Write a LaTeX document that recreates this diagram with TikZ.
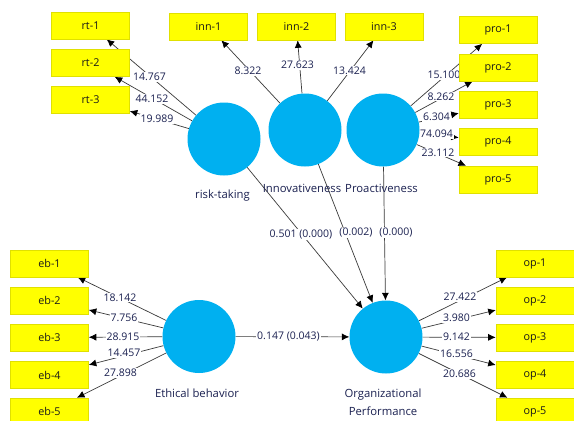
\documentclass[tikz,border=0pt]{standalone}
\usepackage{fontspec}
\setmainfont{Open Sans}
\usetikzlibrary{arrows.meta, positioning, backgrounds}
\definecolor{LVBlue}{HTML}{00B0F0}
\definecolor{IndYellow}{HTML}{FFFF00}
\definecolor{IndEdge}{HTML}{E0E000}
\definecolor{LblNavy}{HTML}{1A2050}
\definecolor{LinkGray}{HTML}{3A3A3A}

\tikzset{
  latent/.style={circle, fill=LVBlue, draw=none, minimum size=73pt, inner sep=0pt},
  indic/.style={rectangle, fill=IndYellow, draw=IndEdge, line width=0.6pt,
    minimum width=78pt, minimum height=27pt, inner sep=0pt,
    font=\fontsize{10.8}{12}\selectfont, text=black!90},
  lvname/.style={font=\fontsize{11.3}{18}\selectfont, text=LblNavy, inner sep=0pt},
  coef/.style={fill=white, inner sep=0.8pt, font=\fontsize{10.5}{12}\selectfont, text=LblNavy},
  link/.style={draw=LinkGray, line width=0.7pt,
    -{Latex[length=7.5pt, width=7pt, color=black]}}
}

\begin{document}
\begin{tikzpicture}[x=1pt, y=-1pt]
\useasboundingbox (0,0) rectangle (574,421);

% ── Latent variables ──────────────────────────────────────────────────────────
\node[latent] (rt)  at (224,139)   {};
\node[latent] (inn) at (305,130)   {};
\node[latent] (pro) at (383,130)   {};
\node[latent] (eb)  at (199,336.5) {};
\node[latent] (op)  at (386,337)   {};

\node[lvname] (rtname)  at (222.5,196) {risk-taking};
\node[lvname] (innname) at (302,188)   {Innovativeness};
\node[lvname] (proname) at (381.5,188) {Proactiveness};
\node[lvname] (ebname)  at (197,393)   {Ethical behavior};
\node[lvname, align=center] (opname) at (383,402) {Organizational\\Performance};

% ── Indicators ────────────────────────────────────────────────────────────────
\foreach \n/\y in {1/25.5, 2/63, 3/99.5}
  \node[indic] (rt\n) at (90.5,\y) {rt-\n};
\foreach \n/\x in {1/208.5, 2/296.5, 3/384}
  \node[indic] (inn\n) at (\x,26.5) {inn-\n};
\foreach \n/\y in {1/30, 2/67.5, 3/104.5, 4/141.5, 5/179.5}
  \node[indic] (pro\n) at (498,\y) {pro-\n};
\foreach \n/\y in {1/263.5, 2/300.5, 3/337.5, 4/375, 5/411.5}{
  \node[indic] (eb\n) at (49.5,\y) {eb-\n};
  \node[indic] (op\n) at (535,\y) {op-\n};
}

% ── Loadings and paths ────────────────────────────────────────────────────────
\begin{scope}[on background layer]
  \fill[white] (0,0) rectangle (574,421);
  \foreach \n in {1,2,3}{
    \draw[link] (rt) -- (rt\n);
    \draw[link] (inn) -- (inn\n);
  }
  \foreach \n in {1,...,5}{
    \draw[link] (pro) -- (pro\n);
    \draw[link] (eb) -- (eb\n);
    \draw[link] (op) -- (op\n);
  }
  \draw[link] (rt) -- (op);
  \draw[link] (inn) -- (op);
  \draw[link] (pro) -- (op);
  \draw[link] (eb) -- (op);

  % loading values
  \foreach \n/\x/\y/\v in {1/149.5/77/14.767, 2/152/99/44.152, 3/157/119/19.989}
    \node[coef] (lrt\n) at (\x,\y) {\v};
  \foreach \n/\x/\y/\v in {1/248/71/8.322, 2/297.5/65/27.623, 3/349.5/70.5/13.424}
    \node[coef] (linn\n) at (\x,\y) {\v};
  \foreach \n/\x/\y/\v in {1/444/75/15.100, 2/441/96.5/8.262, 3/436.5/117/6.304,
                           4/436.5/134/74.094, 5/438/152.5/23.112}
    \node[coef] (lpro\n) at (\x,\y) {\v};
  \foreach \n/\x/\y/\v in {1/120/297.5/18.142, 2/124/318/7.756, 3/123/336.5/28.915,
                           4/124/353/14.457, 5/120.5/373/27.898}
    \node[coef] (leb\n) at (\x,\y) {\v};
  \foreach \n/\x/\y/\v in {1/460/297/27.422, 2/456.5/318/3.980, 3/456.5/336.5/9.142,
                           4/456.5/354/16.556, 5/459.5/374/20.686}
    \node[coef] (lop\n) at (\x,\y) {\v};

  % path coefficients
  \node[coef] (lrtop)  at (301,234.5) {0.501 (0.000)};
  \node[coef] (linnop) at (356,233)   {(0.002)};
  \node[coef] (lproop) at (396,232.5) {(0.000)};
  \node[coef] (lebop)  at (288.5,337) {0.147 (0.043)};
\end{scope}

\end{tikzpicture}
\end{document}
